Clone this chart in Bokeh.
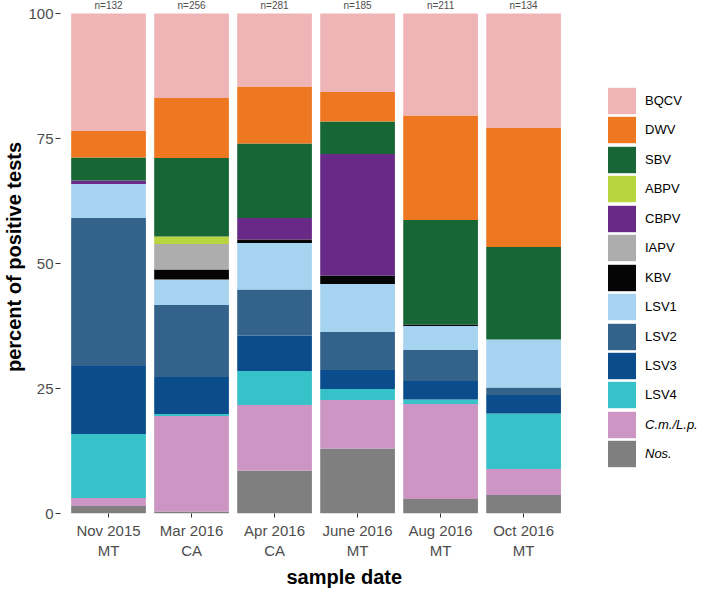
from bokeh.plotting import figure
from bokeh.models import ColumnDataSource, Legend, LegendItem, FixedTicker, Range1d, Title
from bokeh.core.properties import value
from bokeh.embed import file_html
from bokeh.resources import INLINE

FONT = "Liberation Sans"

# categories (sample date / state)
dates = ["Nov 2015\nMT", "Mar 2016\nCA", "Apr 2016\nCA",
         "June 2016\nMT", "Aug 2016\nMT", "Oct 2016\nMT"]
n_labels = ["n=132", "n=256", "n=281", "n=185", "n=211", "n=134"]

# series (percent of positive tests), stacked bottom -> top
Nos  = [1.5, 0.4, 8.6, 13.0, 2.9, 3.7]
CmLp = [1.6, 19.1, 13.1, 9.7, 19.0, 5.2]
LSV4 = [12.8, 0.4, 6.8, 2.2, 0.9, 11.1]
LSV3 = [13.6, 7.4, 7.1, 3.8, 3.7, 3.7]
LSV2 = [29.6, 14.4, 9.2, 7.6, 6.2, 1.5]
LSV1 = [6.8, 5.1, 9.3, 9.6, 4.8, 9.6]
KBV  = [0.0, 2.0, 0.7, 1.7, 0.3, 0.0]
IAPV = [0.0, 5.1, 0.0, 0.0, 0.0, 0.0]
CBPV = [0.7, 0.0, 4.3, 24.3, 0.0, 0.0]
ABPV = [0.0, 1.5, 0.0, 0.0, 0.0, 0.0]
SBV  = [4.6, 15.7, 14.9, 6.5, 20.9, 18.5]
DWV  = [5.3, 12.0, 11.4, 5.9, 20.9, 23.8]
BQCV = [23.5, 16.9, 14.6, 15.7, 20.4, 22.9]

stack_keys = ["Nos", "CmLp", "LSV4", "LSV3", "LSV2", "LSV1", "KBV",
              "IAPV", "CBPV", "ABPV", "SBV", "DWV", "BQCV"]
stack_vals = [Nos, CmLp, LSV4, LSV3, LSV2, LSV1, KBV, IAPV, CBPV, ABPV, SBV, DWV, BQCV]
names = {"Nos": "Nos.", "CmLp": "C.m./L.p.", "LSV4": "LSV4", "LSV3": "LSV3",
         "LSV2": "LSV2", "LSV1": "LSV1", "KBV": "KBV", "IAPV": "IAPV",
         "CBPV": "CBPV", "ABPV": "ABPV", "SBV": "SBV", "DWV": "DWV", "BQCV": "BQCV"}
colors = {"BQCV": "#EFB5B6", "DWV": "#EE7722", "SBV": "#176636", "ABPV": "#B8D43E",
          "CBPV": "#692A87", "IAPV": "#ADADAD", "KBV": "#050505", "LSV1": "#A6D3EF",
          "LSV2": "#33628A", "LSV3": "#0B4D8C", "LSV4": "#37C1C8", "CmLp": "#CC95C4",
          "Nos": "#7F7F7F"}
italic_keys = ["CmLp", "Nos"]

xs = list(range(1, len(dates) + 1))
data = {"x": xs}
for k, v in zip(stack_keys, stack_vals):
    data[k] = v
src = ColumnDataSource(data)

p = figure(width=699, height=590, output_backend="svg", toolbar_location=None,
           x_range=Range1d(0.4214, 8.119), y_range=Range1d(0, 102.6),
           min_border_left=52, min_border_right=0, min_border_top=0,
           min_border_bottom=77)
p.outline_line_color = None
p.xgrid.grid_line_color = None
p.ygrid.grid_line_color = None
p.background_fill_color = "white"

rs = p.vbar_stack(stack_keys, x="x", width=0.9, source=src,
                  fill_color=[colors[k] for k in stack_keys],
                  line_color=None, line_width=0)
rmap = dict(zip(stack_keys, rs))

p.text(x=xs, y=[101.6] * len(xs), text=n_labels, text_align="center",
       text_baseline="middle", text_font_size="10px", text_color="#4D4D4D",
       text_font=value(FONT))

# axes
for ax in (p.xaxis[0], p.yaxis[0]):
    ax.axis_line_color = None
    ax.major_tick_line_color = "#333333"
    ax.minor_tick_line_color = None
    ax.major_tick_in = 0
    ax.major_label_text_font = FONT
    ax.major_label_text_font_size = "15px"
    ax.major_label_text_color = "#4D4D4D"
    ax.axis_label_text_font = FONT
    ax.axis_label_text_font_style = "bold"
    ax.axis_label_text_font_size = "20px"
    ax.axis_label_text_color = "black"

p.xaxis.ticker = FixedTicker(ticks=xs)
p.xaxis.major_label_overrides = {x: d for x, d in zip(xs, dates)}
p.xaxis.major_tick_out = 4
p.xaxis.major_label_standoff = 4

p.add_layout(Title(text="sample date", align="left", offset=226, standoff=5,
                   text_font=FONT, text_font_size="20px", text_font_style="bold",
                   text_color="black"), "below")

p.yaxis.ticker = FixedTicker(ticks=[0, 25, 50, 75, 100])
p.yaxis.major_tick_out = 5
p.yaxis.major_label_standoff = 2
p.yaxis.axis_label = "percent of positive tests"
p.yaxis.axis_label_standoff = 0

order = ["BQCV", "DWV", "SBV", "ABPV", "CBPV", "IAPV", "KBV",
         "LSV1", "LSV2", "LSV3", "LSV4", "CmLp", "Nos"]

for i, k in enumerate(order):
    lg = Legend(items=[LegendItem(label=names[k], renderers=[rmap[k]])],
                location=(544, round(396 - 29.44 * i)), orientation="vertical",
                glyph_width=35, glyph_height=33, spacing=0,
                label_standoff=6, padding=0, margin=0,
                border_line_color=None, background_fill_alpha=0,
                label_text_font=FONT, label_text_font_size="13px",
                label_text_color="black",
                label_text_font_style="italic" if k in italic_keys else "normal")
    p.add_layout(lg)

open("out.html", "w").write(file_html(p, INLINE))
